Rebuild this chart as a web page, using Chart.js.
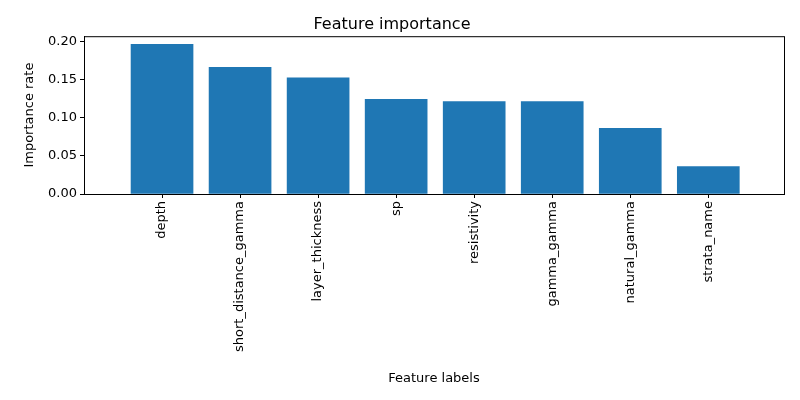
<!DOCTYPE html>
<html>
<head>
<meta charset="utf-8">
<script src="https://cdn.jsdelivr.net/npm/chart.js@4"></script>
<style>
  body { margin: 0; background: #fff; }
  #wrap { width: 800px; height: 400px; }
</style>
</head>
<body>
<div id="wrap"><canvas id="chart"></canvas></div>
<script>
// Feature importance bar chart
const featureLabels = ['depth', 'short_distance_gamma', 'layer_thickness', 'sp', 'resistivity', 'gamma_gamma', 'natural_gamma', 'strata_name'];
const importance = [0.196, 0.166, 0.152, 0.124, 0.121, 0.121, 0.086, 0.036];
const yTicks = [0, 0.05, 0.10, 0.15, 0.20];

const font = { family: 'DejaVu Sans', size: 13 };

// box around plot area, like matplotlib spines
const frame = {
    id: 'frame',
    afterDraw(chart) {
        const { ctx, chartArea: a } = chart;
        ctx.save();
        ctx.strokeStyle = '#000';
        ctx.lineWidth = 1;
        ctx.strokeRect(a.left + 0.5, a.top + 0.5, a.right - a.left, a.bottom - a.top);
        ctx.restore();
    }
};

new Chart(document.getElementById('chart'), {
    type: 'bar',
    data: {
        datasets: [{
            data: importance.map((v, i) => ({ x: i, y: v })),
            backgroundColor: '#1f77b4',
            borderWidth: 0,
            barThickness: 62
        }]
    },
    options: {
        responsive: true,
        maintainAspectRatio: false,
        animation: false,
        layout: { padding: { left: 0, right: 16, top: 0, bottom: 0 } },
        plugins: {
            legend: { display: false },
            tooltip: { enabled: false },
            title: {
                display: true,
                text: 'Feature importance',
                color: '#000',
                font: { family: 'DejaVu Sans', size: 16, weight: 'normal' },
                padding: { top: 15, bottom: 2 }
            }
        },
        scales: {
            x: {
                type: 'linear',
                offset: false,
                min: -1,
                max: 7.97,
                afterBuildTicks: s => { s.ticks = featureLabels.map((_, i) => ({ value: i })); },
                afterFit: s => { s.height = 206; },
                ticks: {
                    color: '#000', font,
                    maxRotation: 90, minRotation: 90,
                    callback: v => featureLabels[v]
                },
                grid: { drawOnChartArea: false, offset: false, color: '#000', tickLength: 4 },
                border: { color: '#000' },
                title: {
                    display: true, text: 'Feature labels', color: '#000', font,
                    padding: { top: 4, bottom: 14 }
                }
            },
            y: {
                min: 0,
                max: 0.2066,
                afterBuildTicks: s => { s.ticks = yTicks.map(v => ({ value: v })); },
                afterFit: s => { s.width = 84; },
                ticks: { color: '#000', font, callback: v => v.toFixed(2) },
                grid: { drawOnChartArea: false, color: '#000', tickLength: 4 },
                border: { color: '#000' },
                title: {
                    display: true, text: 'Importance rate', color: '#000', font,
                    padding: { top: 22, bottom: 4 }
                }
            }
        }
    },
    plugins: [frame]
});
</script>
</body>
</html>
